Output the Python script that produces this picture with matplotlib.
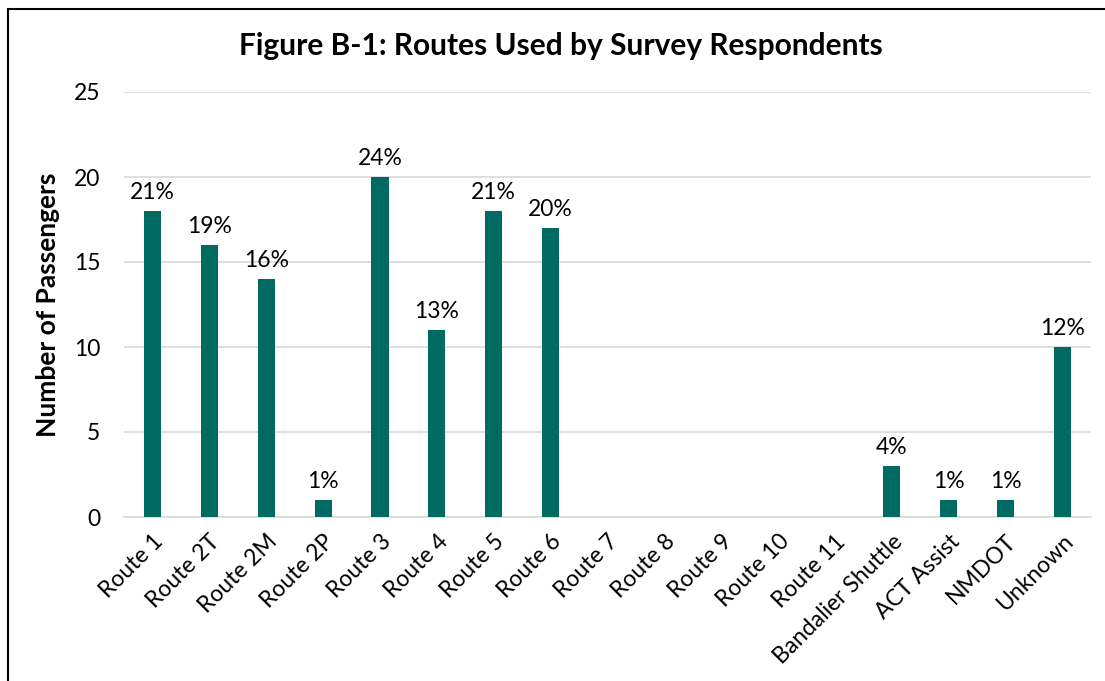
import matplotlib
matplotlib.use("Agg")
import matplotlib.pyplot as plt
from matplotlib.patches import Rectangle

categories = ["Route 1", "Route 2T", "Route 2M", "Route 2P", "Route 3", "Route 4",
              "Route 5", "Route 6", "Route 7", "Route 8", "Route 9", "Route 10",
              "Route 11", "Bandalier Shuttle", "ACT Assist", "NMDOT", "Unknown"]
passengers = [18, 16, 14, 1, 20, 11, 18, 17, 0, 0, 0, 0, 0, 3, 1, 1, 10]
pct_labels = ["21%", "19%", "16%", "1%", "24%", "13%", "21%", "20%", "", "", "", "", "",
              "4%", "1%", "1%", "12%"]
yticks = [0, 5, 10, 15, 20, 25]

plt.rcParams['font.family'] = ['Lato', 'DejaVu Sans']

W, H = 1105, 681
fig = plt.figure(figsize=(W/100, H/100), dpi=100)
ax = fig.add_axes([124/W, 1-517/H, (1091-124)/W, (517-92)/H])

x = list(range(len(categories)))
bars = ax.bar(x, passengers, width=0.3, color="#006A63", zorder=3)
for xi, v, lab in zip(x, passengers, pct_labels):
    if lab:
        ax.annotate(lab, (xi, v), xytext=(0, 6), textcoords="offset points",
                    ha="center", va="bottom", fontsize=16.5, color="black")

ax.set_xlim(-0.5, len(categories)-0.5)
ax.set_ylim(0, 25)
ax.set_yticks(yticks)
ax.set_yticklabels([str(t) for t in yticks], fontsize=16.5)
ax.set_xticks(x)
ax.set_xticklabels(categories, rotation=45, ha="right", rotation_mode="anchor", fontsize=16.5)
ax.tick_params(axis='x', length=0, pad=10)
ax.tick_params(axis='y', length=0, pad=17)
ax.grid(axis='y', color="#D9D9D9", linewidth=1.2, zorder=0)
for s in ["top", "right", "left"]:
    ax.spines[s].set_visible(False)
ax.spines["bottom"].set_color("#D9D9D9")
ax.spines["bottom"].set_linewidth(1.2)

ax.set_ylabel("Number of Passengers", fontsize=19, fontweight="bold", labelpad=10)
fig.text(561/W, 1-46/H, "Figure B-1: Routes Used by Survey Respondents", ha="center", va="center",
         fontsize=21.5, fontweight="bold")

fig.patches.append(Rectangle((8/W, -0.1), 1.2, 1-9/H+0.1, transform=fig.transFigure,
                             fill=False, edgecolor="black", linewidth=1.5))

fig.savefig("out.png", dpi=100)
